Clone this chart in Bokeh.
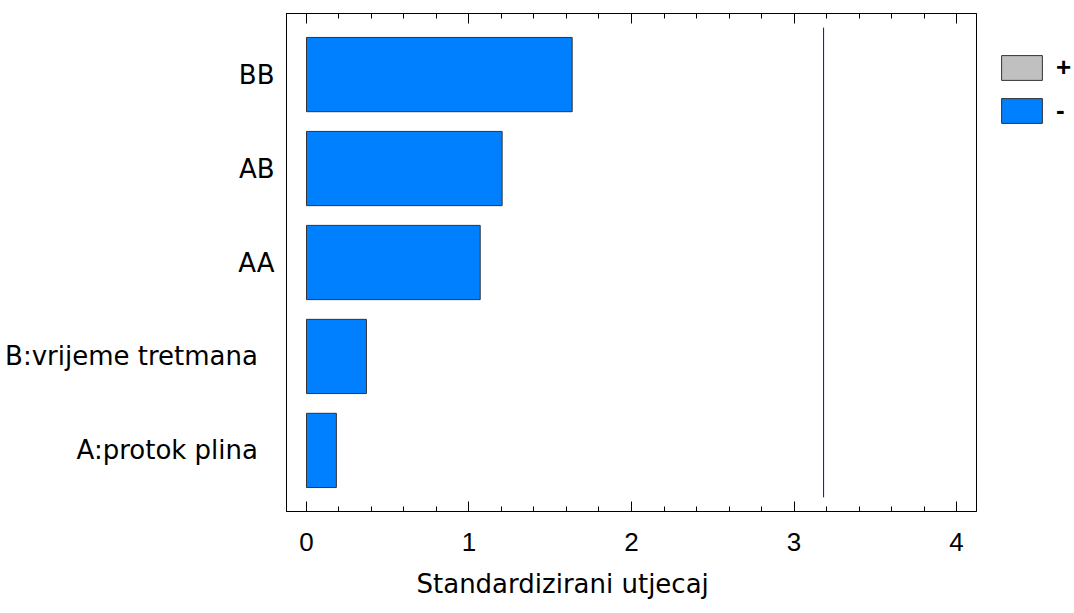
from bokeh.plotting import figure
from bokeh.layouts import row
from bokeh.models import (Range1d, LinearAxis, SingleIntervalTicker, FixedTicker,
                          Legend, LegendItem, ColumnDataSource, CustomJSTickFormatter, Title)
from bokeh.embed import file_html
from bokeh.resources import INLINE

# ---- data ----
factors = ["A:protok plina", "B:vrijeme tretmana", "AA", "AB", "BB"]
positions = [1, 2, 3, 4, 5]
effects = [0.184, 0.369, 1.069, 1.204, 1.635]
critical_value = 3.182
legend_labels = ["+", "-"]
legend_colors = ["#c0c0c0", "#0080ff"]
x_title = "Standardizirani utjecaj"

BLUE = "#0080ff"
EDGE = "#333333"

p = figure(width=978, height=613,
           min_border_left=286, min_border_right=2, min_border_top=13, min_border_bottom=102,
           x_range=Range1d(-0.123, 4.123), y_range=Range1d(0.35, 5.65),
           output_backend="svg", toolbar_location=None,
           x_axis_location=None, y_axis_location=None)
p.xgrid.visible = False
p.ygrid.visible = False
p.outline_line_color = "black"
p.outline_line_width = 1
p.background_fill_color = "white"
p.border_fill_color = "white"

src = ColumnDataSource(dict(y=positions, right=effects))
p.hbar(y="y", left=0, right="right", height=0.79, source=src,
       fill_color=BLUE, line_color=EDGE, line_width=1)

# critical value line
p.segment(x0=[critical_value], x1=[critical_value], y0=[0.5], y1=[5.5],
          line_color="#0000ff", line_width=1)

# bottom axis
xb = LinearAxis(ticker=SingleIntervalTicker(interval=1, num_minor_ticks=5))
xb.axis_line_color = "black"
xb.major_tick_in = 10
xb.major_tick_out = 0
xb.minor_tick_in = 5
xb.minor_tick_out = 0
xb.major_tick_line_color = "black"
xb.minor_tick_line_color = "black"
xb.major_label_text_font = "Liberation Sans"
xb.major_label_text_font_size = "26px"
xb.major_label_text_color = "black"
xb.major_label_standoff = 21
p.add_layout(xb, "below")

# axis title, placed like the reference (left of frame centre)
t = Title(text=x_title, align="left", offset=130, standoff=27,
          text_font="DejaVu Sans", text_font_size="26px", text_font_style="normal",
          text_color="black")
p.add_layout(t, "below")

# top mirror axis (ticks only)
xt = LinearAxis(ticker=SingleIntervalTicker(interval=1, num_minor_ticks=5),
                formatter=CustomJSTickFormatter(code="return ''"))
xt.axis_line_color = "black"
xt.major_tick_in = 10
xt.major_tick_out = 0
xt.minor_tick_in = 5
xt.minor_tick_out = 0
xt.major_label_standoff = 0
p.add_layout(xt, "above")

# left categorical labels
yl = LinearAxis(ticker=FixedTicker(ticks=positions, minor_ticks=[]))
overrides = {}
for pos, lab in zip(positions, factors):
    overrides[pos] = lab + ("\u00a0\u00a0" if len(lab) > 2 else "")
yl.major_label_overrides = overrides
yl.axis_line_color = "black"
yl.major_tick_in = 0
yl.major_tick_out = 0
yl.major_tick_line_color = None
yl.minor_tick_line_color = None
yl.major_label_text_font = "DejaVu Sans"
yl.major_label_text_font_size = "26px"
yl.major_label_text_color = "black"
yl.major_label_standoff = 12
p.add_layout(yl, "left")

# ---- legend panel (separate small figure to the right) ----
lf = figure(width=96, height=613, min_border=0,
            x_range=Range1d(0, 1), y_range=Range1d(0, 1),
            output_backend="svg", toolbar_location=None,
            x_axis_location=None, y_axis_location=None)
lf.xgrid.visible = False
lf.ygrid.visible = False
lf.outline_line_color = None
lf.background_fill_color = "white"
lf.border_fill_color = "white"

items = []
for lab, col in zip(legend_labels, legend_colors):
    # proxy renderer with data outside the visible x range
    r = lf.hbar(y=[0.5], left=[10], right=[11], height=0.1, fill_color=col, line_color=EDGE)
    items.append(LegendItem(label=lab, renderers=[r]))

# frame of this panel is aligned with the main frame (top 13, bottom 511)
legend = Legend(items=items, location=(18, 385))
legend.glyph_width = 51
legend.glyph_height = 31
legend.label_height = 31
legend.spacing = 12
legend.padding = 0
legend.margin = 0
legend.border_line_color = None
legend.background_fill_alpha = 0
legend.label_text_font = "Liberation Sans"
legend.label_text_font_size = "26px"
legend.label_text_font_style = "bold"
legend.label_text_color = "black"
legend.label_standoff = 9
lf.add_layout(legend, "center")

layout = row(p, lf, spacing=0)
open("out.html", "w").write(file_html(layout, INLINE))
